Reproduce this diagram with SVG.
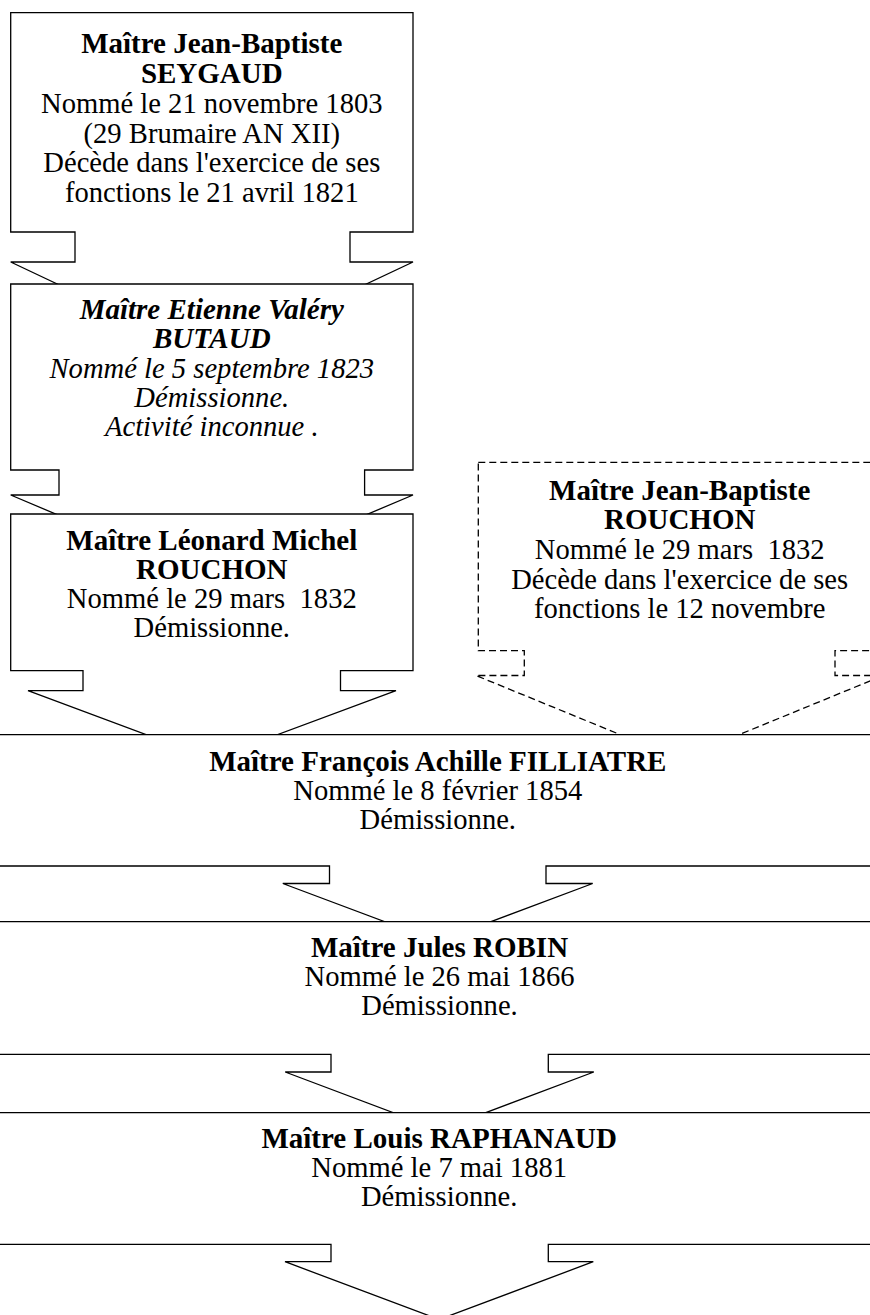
<svg xmlns="http://www.w3.org/2000/svg" width="870" height="1315" viewBox="0 0 870 1315">
<style>
.box{fill:#fff;stroke:#000;stroke-width:1.3;stroke-linejoin:miter}
.dash{stroke-dasharray:7 4}
text{font-family:"Liberation Serif","Times New Roman",serif;font-size:28.6px;fill:#000;text-anchor:middle;white-space:pre}
.b{font-weight:bold;font-size:29px}
.i{font-style:italic}
</style>
<rect width="870" height="1315" fill="#fff"/>
<g id="connectors"></g>
<g id="n1">
<path class="box" d="M10.7,12.7 H413 V232 H350 V262 H413 L211.8,357 L10.7,262 H75 V232 H10.7 Z"/>
<text x="211.8" y="53" class="b">Maître Jean-Baptiste</text>
<text x="211.8" y="83" class="b">SEYGAUD</text>
<text x="211.8" y="113">Nommé le 21 novembre 1803</text>
<text x="211.8" y="143">(29 Brumaire AN XII)</text>
<text x="211.8" y="172">Décède dans l'exercice de ses</text>
<text x="211.8" y="202">fonctions le 21 avril 1821</text>
</g>
<g id="n2">
<path class="box" d="M10.7,284 H413 V470 H364.6 V495 H413 L211.8,580 L10.7,495 H59 V470 H10.7 Z"/>
<text x="211.8" y="319" class="b i">Maître Etienne Valéry</text>
<text x="211.8" y="348" class="b i">BUTAUD</text>
<text x="211.8" y="378" class="i">Nommé le 5 septembre 1823</text>
<text x="211.8" y="407" class="i">Démissionne.</text>
<text x="211.8" y="436" class="i">Activité inconnue .</text>
</g>
<g id="n3">
<path class="box" d="M10.7,514 H413 V670.7 H340.5 V690.7 H396 L211.8,759 L28,690.7 H83 V670.7 H10.7 Z"/>
<text x="211.8" y="550" class="b">Maître Léonard Michel</text>
<text x="211.8" y="579" class="b">ROUCHON</text>
<text x="211.8" y="608">Nommé le 29 mars  1832</text>
<text x="211.8" y="637">Démissionne.</text>
</g>
<g id="n4">
<path class="box dash" d="M478.3,462.3 H882 V650.7 H835 V675.5 H883.4 L679.7,759 L476,675.5 H524.3 V650.7 H478.3 Z"/>
<text x="679.7" y="500" class="b">Maître Jean-Baptiste</text>
<text x="679.7" y="529" class="b">ROUCHON</text>
<text x="679.7" y="559">Nommé le 29 mars  1832</text>
<text x="679.7" y="589">Décède dans l'exercice de ses</text>
<text x="679.7" y="618">fonctions le 12 novembre</text>
</g>
<g id="n5">
<path class="box" d="M-10,734.7 H880 V866 H546 V883.5 H592.7 L437.8,941.5 L282.8,883.5 H329.5 V866 H-10 Z"/>
<text x="437.8" y="771" class="b">Maître François Achille FILLIATRE</text>
<text x="437.8" y="800">Nommé le 8 février 1854</text>
<text x="437.8" y="829">Démissionne.</text>
</g>
<g id="n6">
<path class="box" d="M-10,921.7 H880 V1054.3 H548.3 V1072 H593.8 L439.5,1130 L285.2,1072 H331 V1054.3 H-10 Z"/>
<text x="439.5" y="957" class="b">Maître Jules ROBIN</text>
<text x="439.5" y="986">Nommé le 26 mai 1866</text>
<text x="439.5" y="1015">Démissionne.</text>
</g>
<g id="n7">
<path class="box" d="M-10,1112.7 H880 V1244.3 H548.3 V1261.7 H593.3 L439.2,1319.5 L285,1261.7 H331 V1244.3 H-10 Z"/>
<text x="439.2" y="1148" class="b">Maître Louis RAPHANAUD</text>
<text x="439.2" y="1177">Nommé le 7 mai 1881</text>
<text x="439.2" y="1206">Démissionne.</text>
</g>
</svg>
